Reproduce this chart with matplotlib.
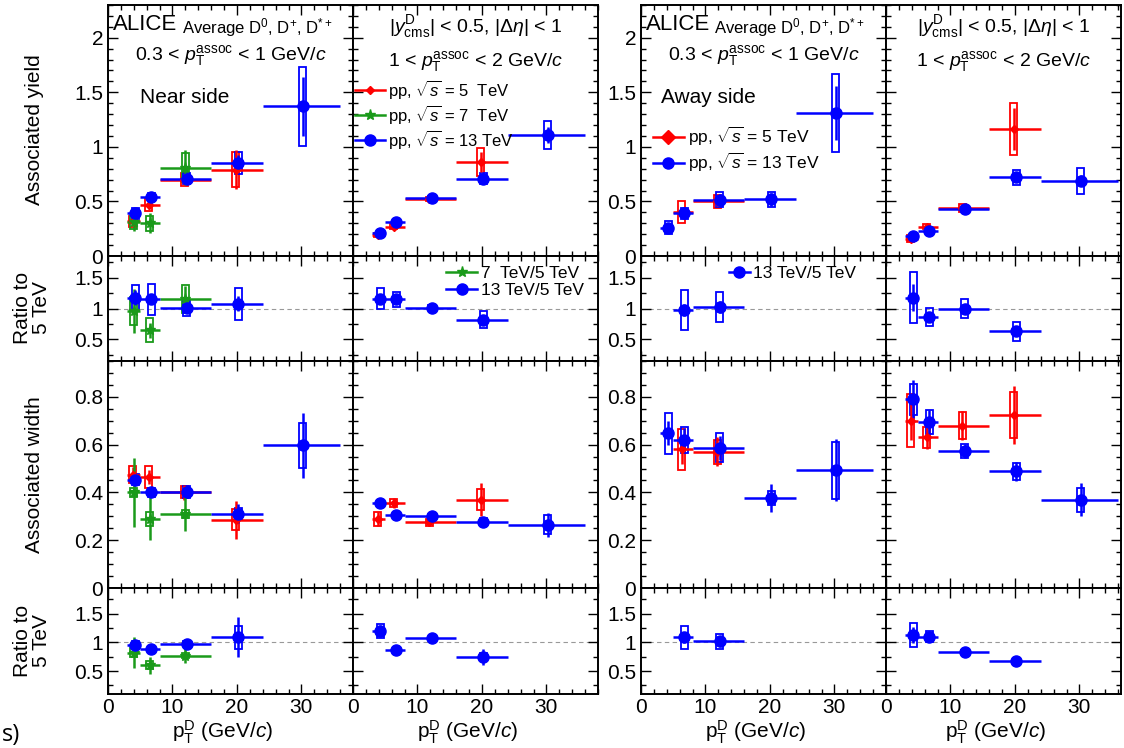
import matplotlib
matplotlib.use("Agg")
import matplotlib.pyplot as plt
from matplotlib.patches import Rectangle
from matplotlib.lines import Line2D
from matplotlib.ticker import MultipleLocator, FuncFormatter
import numpy as np

plt.rcParams['font.family'] = ['Liberation Sans', 'DejaVu Sans']
plt.rcParams['mathtext.fontset'] = 'custom'
plt.rcParams['mathtext.rm'] = 'Liberation Sans'
plt.rcParams['mathtext.it'] = 'Liberation Sans:italic'

# D-meson pT bins
bin_lo = np.array([3, 5, 8, 16, 24])
bin_hi = np.array([5, 8, 16, 24, 36])

# near side, associated yield (0.3-1 GeV/c)
nsy_a_5 = ([0, 1, 2, 3], [0.32, 0.47, 0.70, 0.79], [0.03, 0.04, 0.04, 0.18], [0.05, 0.06, 0.06, 0.16])
nsy_a_7 = ([0, 1, 2], [0.31, 0.30, 0.81], [0.08, 0.09, 0.16], [0.06, 0.07, 0.13])
nsy_a_13 = ([0, 1, 2, 3, 4], [0.39, 0.54, 0.71, 0.85, 1.37], [0.03, 0.03, 0.03, 0.08, 0.27], [0.05, 0.04, 0.05, 0.10, 0.36])
# near side, associated yield (1-2 GeV/c)
nsy_b_5 = ([0, 1, 2, 3], [0.19, 0.27, 0.52, 0.86], [0.02, 0.02, 0.02, 0.09], [0.02, 0.02, 0.02, 0.13])
nsy_b_13 = ([0, 1, 2, 3, 4], [0.21, 0.31, 0.53, 0.71, 1.11], [0.01, 0.01, 0.01, 0.03, 0.07], [0.02, 0.02, 0.02, 0.05, 0.13])
# away side, associated yield
asy_a_5 = ([1, 2], [0.40, 0.50], [0.04, 0.04], [0.10, 0.06])
asy_a_13 = ([0, 1, 2, 3, 4], [0.26, 0.39, 0.515, 0.52, 1.31], [0.03, 0.03, 0.05, 0.06, 0.25], [0.06, 0.05, 0.07, 0.07, 0.36])
asy_b_5 = ([0, 1, 2, 3], [0.16, 0.27, 0.44, 1.165], [0.02, 0.02, 0.02, 0.19], [0.03, 0.02, 0.035, 0.24])
asy_b_13 = ([0, 1, 2, 3, 4], [0.18, 0.23, 0.43, 0.72, 0.69], [0.01, 0.01, 0.01, 0.04, 0.05], [0.02, 0.02, 0.02, 0.07, 0.12])

# yield ratios to 5 TeV
nsyr_a_7 = ([0, 1, 2], [0.96, 0.65, 1.15], [0.35, 0.12, 0.22], [0.22, 0.19, 0.23])
nsyr_a_13 = ([0, 1, 2, 3], [1.175, 1.15, 1.01, 1.08], [0.12, 0.08, 0.05, 0.12], [0.21, 0.25, 0.13, 0.26])
nsyr_b_13 = ([0, 1, 2, 3], [1.16, 1.15, 1.01, 0.82], [0.06, 0.05, 0.03, 0.07], [0.17, 0.12, 0.04, 0.14])
asyr_a_13 = ([1, 2], [0.98, 1.02], [0.10, 0.10], [0.32, 0.24])
asyr_b_13 = ([0, 1, 2, 3], [1.175, 0.86, 1.0, 0.63], [0.22, 0.07, 0.05, 0.05], [0.41, 0.15, 0.16, 0.15])

# near side, associated width
nsw_a_5 = ([0, 1, 2, 3], [0.475, 0.465, 0.40, 0.286], [0.03, 0.03, 0.03, 0.08], [0.035, 0.045, 0.025, 0.045])
nsw_a_7 = ([0, 1, 2], [0.40, 0.29, 0.31], [0.145, 0.09, 0.07], [0.02, 0.03, 0.015])
nsw_a_13 = ([0, 1, 2, 3, 4], [0.454, 0.40, 0.40, 0.31, 0.597], [0.02, 0.02, 0.02, 0.04, 0.135], [0.025, 0.02, 0.025, 0.025, 0.095])
nsw_b_5 = ([0, 1, 2, 3], [0.29, 0.356, 0.275, 0.37], [0.03, 0.02, 0.015, 0.07], [0.03, 0.015, 0.015, 0.045])
nsw_b_13 = ([0, 1, 2, 3, 4], [0.356, 0.307, 0.30, 0.277, 0.265], [0.015, 0.01, 0.01, 0.02, 0.05], [0.01, 0.01, 0.01, 0.015, 0.04])
# away side, associated width
asw_a_5 = ([1, 2], [0.58, 0.57], [0.06, 0.06], [0.085, 0.05])
asw_a_13 = ([0, 1, 2, 3, 4], [0.647, 0.62, 0.587, 0.377, 0.493], [0.05, 0.05, 0.05, 0.06, 0.13], [0.085, 0.055, 0.06, 0.03, 0.12])
asw_b_5 = ([0, 1, 2, 3], [0.70, 0.63, 0.68, 0.724], [0.08, 0.05, 0.06, 0.12], [0.11, 0.045, 0.055, 0.095])
asw_b_13 = ([0, 1, 2, 3, 4], [0.79, 0.695, 0.573, 0.489, 0.37], [0.08, 0.05, 0.03, 0.04, 0.07], [0.065, 0.05, 0.03, 0.035, 0.05])

# width ratios to 5 TeV
nswr_a_7 = ([0, 1, 2], [0.82, 0.60, 0.77], [0.27, 0.15, 0.13], [0.08, 0.07, 0.04])
nswr_a_13 = ([0, 1, 2, 3], [0.96, 0.88, 0.98, 1.09], [0.06, 0.05, 0.04, 0.35], [0.06, 0.06, 0.04, 0.20])
nswr_b_13 = ([0, 1, 2, 3], [1.2, 0.86, 1.08, 0.75], [0.10, 0.03, 0.03, 0.14], [0.13, 0.02, 0.02, 0.06])
aswr_a_13 = ([1, 2], [1.09, 1.02], [0.10, 0.10], [0.20, 0.13])
aswr_b_13 = ([0, 1, 2, 3], [1.13, 1.10, 0.83, 0.67], [0.14, 0.10, 0.04, 0.08], [0.21, 0.10, 0.04, 0.06])

RED, GREEN, BLUE = '#ff0000', '#1a9a1a', '#0000ff'
STYLE = {
    '5': dict(color=RED, marker='D', ms=4.5, dx=-0.2),
    '7': dict(color=GREEN, marker='*', ms=8, dx=0.0),
    '13': dict(color=BLUE, marker='o', ms=8, dx=0.2),
}

W, H = 1124, 748
fig = plt.figure(figsize=(W / 100, H / 100), dpi=100)

cols = [(108, 353), (353, 598), (641, 886), (886, 1121)]
rows = [(5, 256), (256, 361), (361, 588), (588, 694)]
ylims = [(0, 2.3), (0.15, 1.85), (0, 0.95), (0.1, 1.95)]
ymaj = [0.5, 0.5, 0.2, 0.5]
ymin = [0.1, 0.25, 0.05, 0.25]
px_per_unit = 245 / 38.0


def draw(ax, series, key):
    bins, y, stat, sys = series
    st = STYLE[key]
    b = np.array(bins)
    x = (bin_lo[b] + bin_hi[b]) / 2.0 + st['dx']
    for xi, yi, si in zip(x, y, sys):
        ax.add_patch(Rectangle((xi - 0.55, yi - si), 1.1, 2 * si, fill=False,
                               ec=st['color'], lw=1.3, zorder=3))
    ax.errorbar(x, y, xerr=[x - bin_lo[b], bin_hi[b] - x], yerr=stat, fmt=st['marker'],
                color=st['color'], ms=st['ms'], lw=1.8, capsize=0, zorder=4)


fmt = FuncFormatter(lambda v, p: '%g' % round(v, 3))
axes = {}
for r, (y0, y1) in enumerate(rows):
    for c, (x0, x1) in enumerate(cols):
        ax = fig.add_axes([x0 / W, 1 - y1 / H, (x1 - x0) / W, (y1 - y0) / H])
        ax.set_xlim(0, (x1 - x0) / px_per_unit)
        ax.set_ylim(*ylims[r])
        ax.xaxis.set_major_locator(MultipleLocator(10))
        ax.xaxis.set_minor_locator(MultipleLocator(2))
        ax.yaxis.set_major_locator(MultipleLocator(ymaj[r]))
        ax.yaxis.set_minor_locator(MultipleLocator(ymin[r]))
        ax.yaxis.set_major_formatter(fmt)
        ax.xaxis.set_major_formatter(fmt)
        ax.tick_params(which='both', direction='in', top=True, right=True,
                       labelsize=15, width=1.0)
        ax.tick_params(which='major', length=7)
        ax.tick_params(which='minor', length=3.5)
        ax.tick_params(axis='x', pad=3)
        for s in ax.spines.values():
            s.set_linewidth(1.4)
        if c in (1, 3):
            ax.tick_params(labelleft=False)
        if r != 3:
            ax.tick_params(labelbottom=False)
        if r in (1, 3):
            ax.axhline(1, color='#999999', lw=0.8, ls=(0, (4, 3)), zorder=1)
        axes[(r, c)] = ax

# yields
draw(axes[(0, 0)], nsy_a_5, '5')
draw(axes[(0, 0)], nsy_a_7, '7')
draw(axes[(0, 0)], nsy_a_13, '13')
draw(axes[(0, 1)], nsy_b_5, '5')
draw(axes[(0, 1)], nsy_b_13, '13')
draw(axes[(0, 2)], asy_a_5, '5')
draw(axes[(0, 2)], asy_a_13, '13')
draw(axes[(0, 3)], asy_b_5, '5')
draw(axes[(0, 3)], asy_b_13, '13')
# yield ratios
draw(axes[(1, 0)], nsyr_a_7, '7')
draw(axes[(1, 0)], nsyr_a_13, '13')
draw(axes[(1, 1)], nsyr_b_13, '13')
draw(axes[(1, 2)], asyr_a_13, '13')
draw(axes[(1, 3)], asyr_b_13, '13')
# widths
draw(axes[(2, 0)], nsw_a_5, '5')
draw(axes[(2, 0)], nsw_a_7, '7')
draw(axes[(2, 0)], nsw_a_13, '13')
draw(axes[(2, 1)], nsw_b_5, '5')
draw(axes[(2, 1)], nsw_b_13, '13')
draw(axes[(2, 2)], asw_a_5, '5')
draw(axes[(2, 2)], asw_a_13, '13')
draw(axes[(2, 3)], asw_b_5, '5')
draw(axes[(2, 3)], asw_b_13, '13')
# width ratios
draw(axes[(3, 0)], nswr_a_7, '7')
draw(axes[(3, 0)], nswr_a_13, '13')
draw(axes[(3, 1)], nswr_b_13, '13')
draw(axes[(3, 2)], aswr_a_13, '13')
draw(axes[(3, 3)], aswr_b_13, '13')

# axis titles
fig.text(35 / W, 1 - 130 / H, 'Associated yield', rotation=90, ha='center', va='center', fontsize=15)
fig.text(32 / W, 1 - 308 / H, 'Ratio to\n5 TeV', rotation=90, ha='center', va='center',
         fontsize=15, linespacing=1.0)
fig.text(35 / W, 1 - 475 / H, 'Associated width', rotation=90, ha='center', va='center', fontsize=15)
fig.text(32 / W, 1 - 641 / H, 'Ratio to\n5 TeV', rotation=90, ha='center', va='center',
         fontsize=15, linespacing=1.0)
for x0, x1 in cols:
    fig.text(((x0 + x1) / 2 - 8) / W, 1 - 738 / H, r'p$_{\mathrm{T}}^{\mathrm{D}}$ (GeV/$c$)',
             ha='center', va='baseline', fontsize=15)
fig.text(2 / W, 1 - 735 / H, 's)', ha='left', va='center', fontsize=17, family='Open Sans')

# panel annotations
for g, side in enumerate(['Near side', 'Away side']):
    a1 = axes[(0, 2 * g)]
    a2 = axes[(0, 2 * g + 1)]
    a1.text(0.02, 0.965, 'ALICE', transform=a1.transAxes, fontsize=16, va='top')
    a1.text(0.30, 0.955, r'Average D$^{0}$, D$^{+}$, D$^{*+}$', transform=a1.transAxes,
            fontsize=12, va='top')
    a1.text(0.5, 0.80, r'0.3 < $p_{\mathrm{T}}^{\mathrm{assoc}}$ < 1 GeV/$c$', transform=a1.transAxes,
            fontsize=14, ha='center', va='center')
    a1.text(0.13 if g == 0 else 0.08, 0.63, side, transform=a1.transAxes, fontsize=15, va='center')
    a2.text(0.5, 0.915, r'$|y^{\mathrm{D}}_{\mathrm{cms}}|$ < 0.5, $|\Delta\eta|$ < 1',
            transform=a2.transAxes, fontsize=14, ha='center', va='center')
    a2.text(0.5, 0.775, r'1 < $p_{\mathrm{T}}^{\mathrm{assoc}}$ < 2 GeV/$c$', transform=a2.transAxes,
            fontsize=14, ha='center', va='center')


def handle(key, ms=None):
    st = STYLE[key]
    return Line2D([], [], color=st['color'], marker=st['marker'], lw=1.8,
                  ms=ms if ms else st['ms'])


axes[(0, 1)].legend([handle('5'), handle('7'), handle('13')],
                    [r'pp, $\sqrt{s}$ = 5  TeV', r'pp, $\sqrt{s}$ = 7  TeV', r'pp, $\sqrt{s}$ = 13 TeV'],
                    loc='upper left', bbox_to_anchor=(-0.02, 0.735), frameon=False, fontsize=12,
                    handlelength=1.8, handletextpad=0.2, labelspacing=0.12, borderaxespad=0)
axes[(0, 2)].legend([handle('5', 7), handle('13')],
                    [r'pp, $\sqrt{s}$ = 5 TeV', r'pp, $\sqrt{s}$ = 13 TeV'],
                    loc='upper left', bbox_to_anchor=(0.02, 0.55), frameon=False, fontsize=12.5,
                    handlelength=1.8, handletextpad=0.2, labelspacing=0.15, borderaxespad=0)
axes[(1, 1)].legend([handle('7'), handle('13')], ['7  TeV/5 TeV', '13 TeV/5 TeV'],
                    loc='upper right', bbox_to_anchor=(0.97, 0.97), frameon=False, fontsize=12.5,
                    handlelength=1.8, handletextpad=0.2, labelspacing=0.1, borderaxespad=0)
axes[(1, 2)].legend([handle('13')], ['13 TeV/5 TeV'],
                    loc='upper left', bbox_to_anchor=(0.33, 0.97), frameon=False, fontsize=12.5,
                    handlelength=1.2, handletextpad=0.2, borderaxespad=0)

fig.savefig('out.png', dpi=100)
